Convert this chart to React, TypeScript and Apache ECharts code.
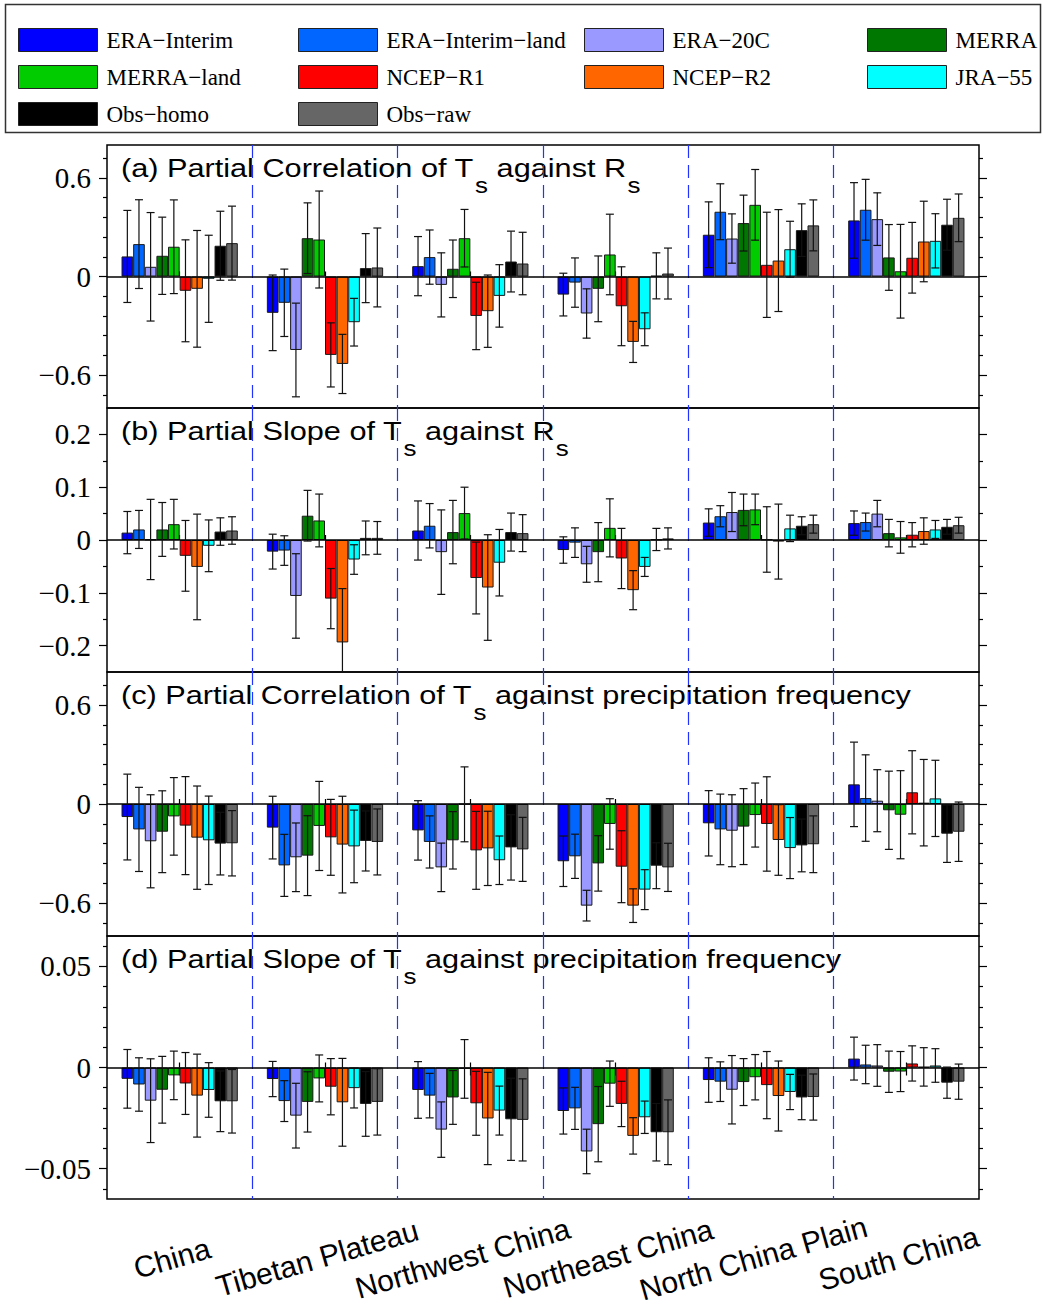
import React, { useEffect, useRef } from "react";
import * as echarts from "echarts";

// ---------------- data ----------------
const regions = ["China", "Tibetan Plateau", "Northwest China", "Northeast China", "North China Plain", "South China"];
const seriesNames = ["ERA\u2212Interim", "ERA\u2212Interim\u2212land", "ERA\u221220C", "MERRA", "MERRA\u2212land", "NCEP\u2212R1", "NCEP\u2212R2", "JRA\u221255", "Obs\u2212homo", "Obs\u2212raw"];
const seriesColors = ["#0000ff", "#0066ff", "#9999ff", "#007700", "#00cc00", "#ff0000", "#ff6600", "#00ffff", "#000000", "#666666"];

// (a) partial correlation of Ts against Rs  (rows: series, cols: regions)
const corrRsValue = [
  [0.122, -0.221, 0.063, -0.110, 0.254, 0.341],
  [0.197, -0.160, 0.118, -0.037, 0.394, 0.406],
  [0.059, -0.447, -0.051, -0.225, 0.231, 0.349],
  [0.126, 0.233, 0.047, -0.075, 0.325, 0.116],
  [0.181, 0.225, 0.233, 0.134, 0.436, 0.032],
  [-0.087, -0.477, -0.240, -0.181, 0.071, 0.114],
  [-0.075, -0.532, -0.211, -0.398, 0.097, 0.213],
  [-0.014, -0.278, -0.118, -0.321, 0.166, 0.217],
  [0.187, 0.051, 0.091, 0.004, 0.282, 0.315],
  [0.203, 0.055, 0.079, 0.018, 0.311, 0.357],
];
const corrRsError = [
  [0.28, 0.23, 0.18, 0.13, 0.20, 0.23],
  [0.27, 0.205, 0.165, 0.15, 0.17, 0.185],
  [0.33, 0.285, 0.195, 0.15, 0.15, 0.16],
  [0.235, 0.215, 0.175, 0.20, 0.17, 0.20],
  [0.285, 0.295, 0.175, 0.245, 0.215, 0.285],
  [0.31, 0.195, 0.205, 0.24, 0.32, 0.215],
  [0.355, 0.18, 0.22, 0.125, 0.31, 0.245],
  [0.265, 0.145, 0.19, 0.10, 0.17, 0.165],
  [0.21, 0.21, 0.185, 0.14, 0.16, 0.155],
  [0.225, 0.24, 0.19, 0.155, 0.155, 0.145],
];

// (b) partial slope of Ts against Rs
const slopeRsValue = [
  [0.014, -0.022, 0.018, -0.019, 0.033, 0.032],
  [0.020, -0.020, 0.027, -0.005, 0.045, 0.034],
  [0.001, -0.106, -0.023, -0.046, 0.053, 0.050],
  [0.020, 0.046, 0.015, -0.023, 0.057, 0.013],
  [0.030, 0.037, 0.051, 0.023, 0.058, 0.005],
  [-0.030, -0.111, -0.072, -0.035, 0.001, 0.010],
  [-0.051, -0.194, -0.090, -0.095, -0.003, 0.017],
  [-0.011, -0.037, -0.043, -0.051, 0.022, 0.020],
  [0.016, 0.004, 0.015, 0.001, 0.027, 0.025],
  [0.018, 0.004, 0.013, 0.003, 0.030, 0.028],
];
const slopeRsError = [
  [0.040, 0.033, 0.056, 0.025, 0.026, 0.023],
  [0.036, 0.028, 0.042, 0.028, 0.020, 0.017],
  [0.076, 0.080, 0.080, 0.034, 0.037, 0.025],
  [0.051, 0.048, 0.060, 0.056, 0.030, 0.026],
  [0.047, 0.050, 0.049, 0.055, 0.029, 0.030],
  [0.067, 0.057, 0.068, 0.057, 0.062, 0.023],
  [0.100, 0.102, 0.100, 0.037, 0.071, 0.025],
  [0.049, 0.028, 0.063, 0.018, 0.025, 0.017],
  [0.026, 0.032, 0.036, 0.021, 0.017, 0.014],
  [0.026, 0.031, 0.035, 0.020, 0.017, 0.015],
];

// (c) partial correlation of Ts against precipitation frequency
const corrPfValue = [
  [-0.079, -0.143, -0.160, -0.347, -0.117, 0.119],
  [-0.154, -0.372, -0.230, -0.317, -0.154, 0.036],
  [-0.226, -0.323, -0.384, -0.616, -0.162, 0.020],
  [-0.168, -0.313, -0.220, -0.360, -0.137, -0.038],
  [-0.075, -0.133, -0.002, -0.121, -0.067, -0.065],
  [-0.131, -0.202, -0.281, -0.380, -0.121, 0.071],
  [-0.204, -0.246, -0.269, -0.616, -0.218, 0.008],
  [-0.220, -0.257, -0.341, -0.519, -0.267, 0.034],
  [-0.240, -0.224, -0.263, -0.374, -0.251, -0.180],
  [-0.238, -0.230, -0.275, -0.384, -0.244, -0.168],
];
const corrPfError = [
  [0.26, 0.19, 0.18, 0.153, 0.198, 0.256],
  [0.255, 0.188, 0.158, 0.134, 0.214, 0.262],
  [0.282, 0.208, 0.147, 0.093, 0.218, 0.188],
  [0.248, 0.242, 0.174, 0.168, 0.23, 0.237],
  [0.235, 0.27, 0.227, 0.153, 0.194, 0.267],
  [0.297, 0.23, 0.236, 0.218, 0.286, 0.252],
  [0.313, 0.293, 0.225, 0.102, 0.214, 0.262],
  [0.268, 0.22, 0.147, 0.121, 0.185, 0.231],
  [0.19, 0.182, 0.198, 0.139, 0.16, 0.174],
  [0.198, 0.2, 0.194, 0.146, 0.172, 0.18],
];

// (d) partial slope of Ts against precipitation frequency
const slopePfValue = [
  [-0.0056, -0.0057, -0.0111, -0.0215, -0.0062, 0.0044],
  [-0.0084, -0.0166, -0.0139, -0.0202, -0.0070, 0.0015],
  [-0.0164, -0.0238, -0.0307, -0.0415, -0.0110, 0.0010],
  [-0.0110, -0.0170, -0.0148, -0.0280, -0.0072, -0.0021],
  [-0.0039, -0.0054, -0.0007, -0.0080, -0.0048, -0.0020],
  [-0.0079, -0.0095, -0.0177, -0.0180, -0.0087, 0.0020],
  [-0.0139, -0.0172, -0.0252, -0.0338, -0.0141, 0.0003],
  [-0.0111, -0.0102, -0.0213, -0.0246, -0.0121, 0.0010],
  [-0.0167, -0.0180, -0.0256, -0.0320, -0.0148, -0.0075],
  [-0.0167, -0.0170, -0.0259, -0.0320, -0.0146, -0.0070],
];
const slopePfError = [
  [0.0145, 0.0087, 0.014, 0.0114, 0.011, 0.0106],
  [0.0132, 0.0101, 0.011, 0.0104, 0.0098, 0.0095],
  [0.0207, 0.016, 0.0137, 0.011, 0.0169, 0.0103],
  [0.0165, 0.0149, 0.0133, 0.0186, 0.0116, 0.0102],
  [0.012, 0.0116, 0.0145, 0.0112, 0.0112, 0.0099],
  [0.0153, 0.0139, 0.0158, 0.0112, 0.0166, 0.0087],
  [0.0205, 0.0217, 0.0228, 0.009, 0.0173, 0.0095],
  [0.0135, 0.0098, 0.0121, 0.008, 0.0087, 0.0083],
  [0.015, 0.016, 0.0203, 0.0142, 0.011, 0.0077],
  [0.0157, 0.0164, 0.0203, 0.016, 0.0114, 0.0087],
];

// axis ranges and tick values per panel
const panelRanges = [[-0.8, 0.8], [-0.25, 0.25], [-0.8, 0.8], [-0.065, 0.065]];
const majorTicks = [[-0.6, 0, 0.6], [-0.2, -0.1, 0, 0.1, 0.2], [-0.6, 0, 0.6], [-0.05, 0, 0.05]];
const minorTicks = [
  [-0.72, -0.48, -0.36, -0.24, -0.12, 0.12, 0.24, 0.36, 0.48, 0.72],
  [-0.15, -0.05, 0.05, 0.15],
  [-0.72, -0.48, -0.36, -0.24, -0.12, 0.12, 0.24, 0.36, 0.48, 0.72],
  [-0.06, -0.04, -0.03, -0.02, -0.01, 0.01, 0.02, 0.03, 0.04, 0.06],
];
const titlePrefix = ["(a) Partial Correlation of T", "(b) Partial Slope of T", "(c) Partial Correlation of T", "(d) Partial Slope of T"];
const titleSuffix = [" against R", " against R", " against precipitation frequency", " against precipitation frequency"];
const titleSuffixSub = ["s", "s", "", ""];
const legendColumns = [[0, 4, 8], [1, 5, 9], [2, 6], [3, 7]];

const panelValues = [corrRsValue, slopeRsValue, corrPfValue, slopePfValue];
const panelErrors = [corrRsError, slopeRsError, corrPfError, slopePfError];

// ---------------- layout ----------------
const GRID_LEFT = 107;
const GRID_RIGHT = 64;
const GRID_TOPS = [145, 408, 672, 936];
const GRID_HEIGHTS = [263, 264, 264, 263];
const LEGEND_LEFTS = [18, 298, 584, 867];
const SANS = '"Liberation Sans", Arial, Helvetica, sans-serif';
const SERIF = '"Liberation Serif", "Times New Roman", serif';

function fmtTick(v: number): string {
  if (Math.abs(v) < 1e-9) return "0";
  const s = String(parseFloat(Math.abs(v).toFixed(4)));
  return (v < 0 ? "\u2212" : "") + s;
}

function measure(text: string, size: number): number {
  try {
    const t = new (echarts.graphic as any).Text({ style: { text, fontSize: size, fontFamily: SANS } });
    return t.getBoundingRect().width;
  } catch (e) {
    return text.length * size * 0.5;
  }
}

function buildOption(): any {
  const grid = GRID_TOPS.map((t, i) => ({
    left: GRID_LEFT,
    right: GRID_RIGHT,
    top: t,
    height: GRID_HEIGHTS[i],
    show: true,
    borderColor: "#000",
    borderWidth: 1.5,
    backgroundColor: "transparent",
  }));

  const xAxis: any[] = GRID_TOPS.map((_, i) => ({
    type: "category",
    gridIndex: i,
    data: regions,
    position: "top",
    axisLine: { show: false },
    axisTick: { show: true, alignWithLabel: true, length: 5, lineStyle: { color: "#000", width: 1.2 } },
    axisLabel: { show: false },
    splitLine: {
      show: true,
      showMinLine: false,
      showMaxLine: false,
      lineStyle: { color: "#2233ff", type: [13, 7], width: 1.2 },
    },
  }));
  xAxis.push({
    type: "category",
    gridIndex: 3,
    data: regions,
    position: "bottom",
    axisLine: { show: false },
    axisTick: { show: true, alignWithLabel: true, length: 8, lineStyle: { color: "#000", width: 1.2 } },
    axisLabel: {
      show: true,
      interval: 0,
      rotate: 16,
      margin: 57,
      align: "center",
      verticalAlign: "middle",
      padding: [0, 16, 0, 0],
      fontSize: 30,
      fontFamily: SANS,
      color: "#000",
    },
    splitLine: { show: false },
  });

  const yAxis: any[] = [];
  GRID_TOPS.forEach((_, i) => {
    const [mn, mx] = panelRanges[i];
    const base = { type: "value", gridIndex: i, min: mn, max: mx, axisLine: { show: false }, splitLine: { show: false } };
    yAxis.push({
      ...base,
      position: "left",
      axisTick: { show: true, customValues: majorTicks[i], length: 8, lineStyle: { color: "#000", width: 1.2 } },
      axisLabel: { show: true, customValues: majorTicks[i], formatter: fmtTick, fontSize: 29, fontFamily: SERIF, color: "#000", margin: 16 },
    });
    yAxis.push({
      ...base,
      position: "left",
      axisTick: { show: true, customValues: minorTicks[i], length: 4, lineStyle: { color: "#000", width: 1.2 } },
      axisLabel: { show: false },
    });
    yAxis.push({
      ...base,
      position: "right",
      axisTick: { show: true, customValues: majorTicks[i], length: 8, lineStyle: { color: "#000", width: 1.2 } },
      axisLabel: { show: false },
    });
    yAxis.push({
      ...base,
      position: "right",
      axisTick: { show: true, customValues: minorTicks[i], length: 4, lineStyle: { color: "#000", width: 1.2 } },
      axisLabel: { show: false },
    });
  });

  const series: any[] = [];
  GRID_TOPS.forEach((_, i) => {
    const vals = panelValues[i];
    const errs = panelErrors[i];
    seriesNames.forEach((name, s) => {
      const bar: any = {
        type: "bar",
        name,
        xAxisIndex: i,
        yAxisIndex: 4 * i,
        data: vals[s],
        barGap: "0%",
        barCategoryGap: "20%",
        silent: true,
        itemStyle: { color: seriesColors[s], borderColor: "#1a1a1a", borderWidth: 1 },
        emphasis: { disabled: true },
      };
      if (s === 0) {
        bar.markLine = {
          silent: true,
          symbol: ["none", "none"],
          label: { show: false },
          lineStyle: { color: "#000", width: 1.5, type: "solid" },
          data: [{ yAxis: 0 }],
        };
      }
      series.push(bar);
    });
    const errData: number[][] = [];
    seriesNames.forEach((_, s) => {
      regions.forEach((__, r) => {
        errData.push([r, s, vals[s][r], errs[s][r]]);
      });
    });
    series.push({
      type: "custom",
      xAxisIndex: i,
      yAxisIndex: 4 * i,
      silent: true,
      clip: true,
      z: 5,
      encode: { x: 0, y: 2 },
      data: errData,
      renderItem: (params: any, api: any) => {
        const r = api.value(0);
        const s = api.value(1);
        const v = api.value(2);
        const e = api.value(3);
        const band = api.size([1, 0])[0];
        const bw = (band * 0.8) / 10;
        const cx = api.coord([r, v])[0] + (s - 4.5) * bw;
        const yt = api.coord([r, v + e])[1];
        const yb = api.coord([r, v - e])[1];
        const cap = 4;
        const style = { stroke: "#111", lineWidth: 1.2 };
        return {
          type: "group",
          children: [
            { type: "line", shape: { x1: cx, y1: yt, x2: cx, y2: yb }, style },
            { type: "line", shape: { x1: cx - cap, y1: yt, x2: cx + cap, y2: yt }, style },
            { type: "line", shape: { x1: cx - cap, y1: yb, x2: cx + cap, y2: yb }, style },
          ],
        };
      },
    });
  });

  const legend = legendColumns.map((col, k) => ({
    data: col.map((i) => seriesNames[i]),
    orient: "vertical",
    left: LEGEND_LEFTS[k],
    top: 28,
    padding: 0,
    itemWidth: 79,
    itemHeight: 23,
    itemGap: 13,
    icon: "rect",
    selectedMode: false,
    itemStyle: { borderColor: "#222", borderWidth: 1 },
    textStyle: { fontFamily: SERIF, fontSize: 23, lineHeight: 23, color: "#000", padding: [0, 0, 0, 4] },
  }));

  const graphic: any[] = [
    {
      type: "rect",
      shape: { x: 5.5, y: 4.5, width: 1035, height: 128 },
      style: { fill: "none", stroke: "#333", lineWidth: 1.5 },
      silent: true,
    },
  ];
  GRID_TOPS.forEach((top, i) => {
    const mainSize = 26;
    const subSize = 22;
    const w1 = measure(titlePrefix[i], mainSize);
    const ws = measure("s", subSize);
    const w2 = measure(titleSuffix[i], mainSize);
    const mainStyle = (text: string) => ({ text, fontSize: mainSize, fontFamily: SANS, fill: "#000", align: "left", verticalAlign: "middle" });
    const subStyle = (text: string) => ({ text, fontSize: subSize, fontFamily: SANS, fill: "#000", align: "left", verticalAlign: "middle" });
    const children: any[] = [
      { type: "text", x: 0, y: top + 23, style: mainStyle(titlePrefix[i]) },
      { type: "text", x: w1 + 1, y: top + 40, style: subStyle("s") },
      { type: "text", x: w1 + 1 + ws, y: top + 23, style: mainStyle(titleSuffix[i]) },
    ];
    if (titleSuffixSub[i]) {
      children.push({ type: "text", x: w1 + 1 + ws + w2 + 1, y: top + 40, style: subStyle(titleSuffixSub[i]) });
    }
    graphic.push({ type: "group", x: 121, y: 0, scaleX: 1.18, scaleY: 1, silent: true, children });
  });

  return {
    animation: false,
    backgroundColor: "#fff",
    grid,
    xAxis,
    yAxis,
    legend,
    series,
    graphic,
  };
}

export default function App() {
  const ref = useRef<HTMLDivElement>(null);
  useEffect(() => {
    if (!ref.current) return;
    const chart = echarts.init(ref.current, null, { renderer: "svg" });
    chart.setOption(buildOption());
    return () => {
      chart.dispose();
    };
  }, []);
  return (
    <div
      ref={ref}
      style={{ position: "absolute", left: 0, top: 0, width: 1043, height: 1306, background: "#fff" }}
    />
  );
}
